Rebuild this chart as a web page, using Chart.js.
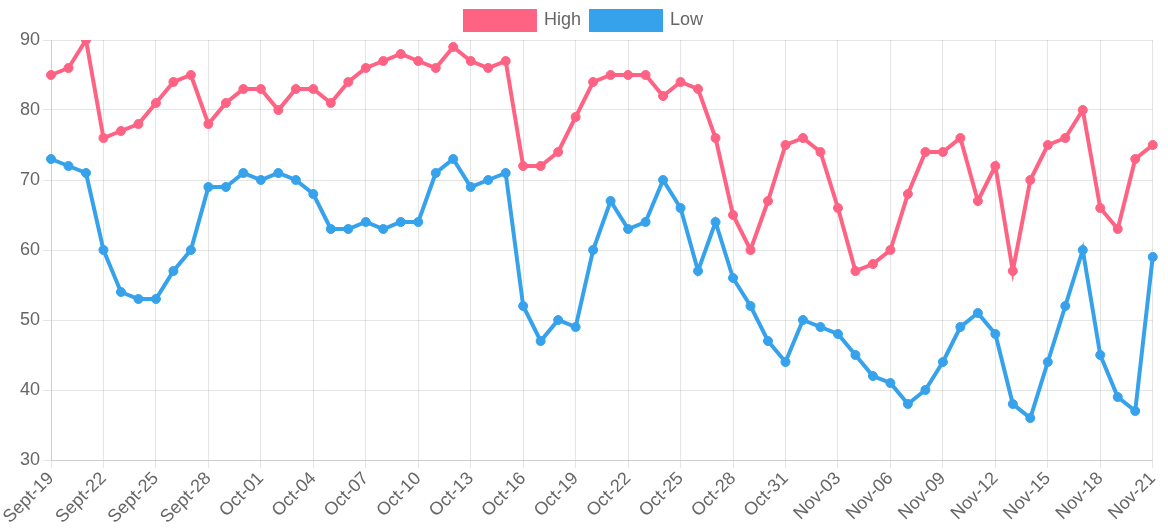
<!DOCTYPE html>
<html>
<head>
<meta charset="utf-8">
<script src="https://cdn.jsdelivr.net/npm/chart.js@4"></script>
<style>
  html, body { margin: 0; padding: 0; background: #fff; }
  #wrap { width: 1168px; height: 529px; }
</style>
</head>
<body>
<div id="wrap"><canvas id="tempChart"></canvas></div>
<script>
// one label per day, Sept-19 .. Nov-21
const days = [
    'Sept-19', 'Sept-20', 'Sept-21', 'Sept-22', 'Sept-23', 'Sept-24', 'Sept-25', 'Sept-26', 'Sept-27', 'Sept-28', 'Sept-29', 'Sept-30',
    'Oct-01', 'Oct-02', 'Oct-03', 'Oct-04', 'Oct-05', 'Oct-06', 'Oct-07', 'Oct-08', 'Oct-09', 'Oct-10',
    'Oct-11', 'Oct-12', 'Oct-13', 'Oct-14', 'Oct-15', 'Oct-16', 'Oct-17', 'Oct-18', 'Oct-19', 'Oct-20',
    'Oct-21', 'Oct-22', 'Oct-23', 'Oct-24', 'Oct-25', 'Oct-26', 'Oct-27', 'Oct-28', 'Oct-29', 'Oct-30', 'Oct-31',
    'Nov-01', 'Nov-02', 'Nov-03', 'Nov-04', 'Nov-05', 'Nov-06', 'Nov-07', 'Nov-08', 'Nov-09', 'Nov-10',
    'Nov-11', 'Nov-12', 'Nov-13', 'Nov-14', 'Nov-15', 'Nov-16', 'Nov-17', 'Nov-18', 'Nov-19', 'Nov-20', 'Nov-21'
];

const highTemps = [
    85, 86, 90, 76, 77, 78, 81, 84, 85, 78, 81, 83,
    83, 80, 83, 83, 81, 84, 86, 87, 88, 87,
    86, 89, 87, 86, 87, 72, 72, 74, 79, 84,
    85, 85, 85, 82, 84, 83, 76, 65, 60, 67, 75,
    76, 74, 66, 57, 58, 60, 68, 74, 74, 76,
    67, 72, 57, 70, 75, 76, 80, 66, 63, 73, 75
];

const lowTemps = [
    73, 72, 71, 60, 54, 53, 53, 57, 60, 69, 69, 71,
    70, 71, 70, 68, 63, 63, 64, 63, 64, 64,
    71, 73, 69, 70, 71, 52, 47, 50, 49, 60,
    67, 63, 64, 70, 66, 57, 64, 56, 52, 47, 44,
    50, 49, 48, 45, 42, 41, 38, 40, 44, 49,
    51, 48, 38, 36, 44, 52, 60, 45, 39, 37, 59
];

const yMin = 30;
const yMax = 90;
const labelEvery = 3;

Chart.defaults.font.family = '"Liberation Sans", Arial, sans-serif';
Chart.defaults.font.size = 18;
Chart.defaults.color = '#666';

function lineSet(label, data, color) {
    return {
        label: label,
        data: data,
        borderColor: color,
        backgroundColor: color,
        borderWidth: 4,
        pointRadius: 4.5,
        pointBorderWidth: 1,
        fill: false,
        tension: 0
    };
}

new Chart(document.getElementById('tempChart').getContext('2d'), {
    type: 'line',
    data: {
        labels: days,
        datasets: [
            lineSet('High', highTemps, 'rgb(255, 99, 132)'),
            lineSet('Low', lowTemps, 'rgb(54, 162, 235)')
        ]
    },
    options: {
        responsive: true,
        maintainAspectRatio: false,
        animation: false,
        layout: { padding: { left: 4, right: 4, top: 1, bottom: 0 } },
        plugins: {
            legend: {
                labels: { boxWidth: 70, boxHeight: 19, padding: 10, font: { size: 18 } }
            },
            tooltip: { enabled: false }
        },
        scales: {
            x: {
                grid: { color: 'rgba(0,0,0,0.1)' },
                ticks: {
                    autoSkip: false,
                    minRotation: 45,
                    maxRotation: 45,
                    padding: 0,
                    callback: function(value, index) {
                        // hide both label and grid line for skipped days
                        return index % labelEvery === 0 ? days[index] : null;
                    }
                },
                afterFit: function(axis) {
                    // labels in the original run close to the bottom edge
                    axis.height = 69;
                }
            },
            y: {
                min: yMin,
                max: yMax,
                grid: { color: 'rgba(0,0,0,0.1)' },
                ticks: { stepSize: 10 },
                afterFit: function(axis) {
                    axis.width = 47;
                }
            }
        }
    }
});
</script>
</body>
</html>
